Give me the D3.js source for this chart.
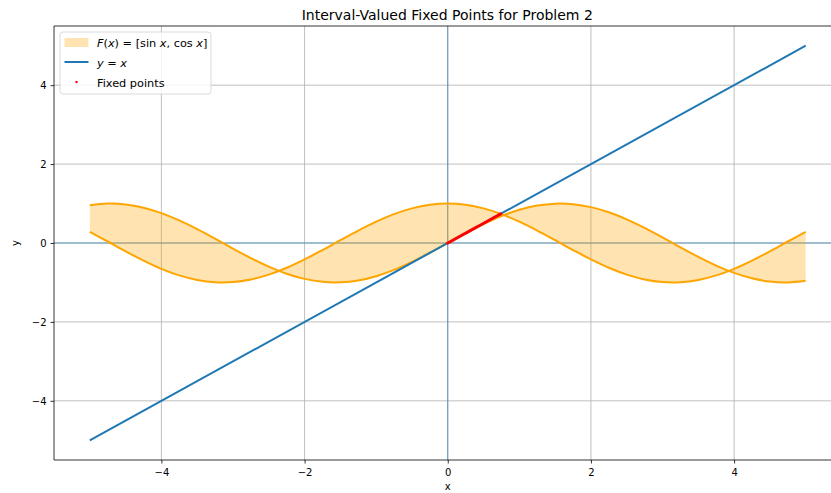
<!DOCTYPE html>
<html>
<head>
<meta charset="utf-8">
<script src="https://cdn.jsdelivr.net/npm/d3@7"></script>
<style>
  body { margin: 0; background: #fff; }
  text { font-family: "DejaVu Sans", sans-serif; }
</style>
</head>
<body>
<svg id="chart" width="831" height="493"></svg>
<script>
// sample points of the two bounding curves
const xs = [-5, -4.75, -4.5, -4.25, -4, -3.75, -3.5, -3.25, -3, -2.75, -2.5, -2.25, -2, -1.75, -1.5, -1.25, -1, -0.75, -0.5, -0.25,
    0, 0.25, 0.5, 0.75, 1, 1.25, 1.5, 1.75, 2, 2.25, 2.5, 2.75, 3, 3.25, 3.5, 3.75, 4, 4.25, 4.5, 4.75, 5];
const sinVals = [0.959, 0.999, 0.978, 0.895, 0.757, 0.572, 0.351, 0.108, -0.141, -0.382, -0.598, -0.778, -0.909, -0.984, -0.997, -0.949, -0.841, -0.682, -0.479, -0.247,
    0, 0.247, 0.479, 0.682, 0.841, 0.949, 0.997, 0.984, 0.909, 0.778, 0.598, 0.382, 0.141, -0.108, -0.351, -0.572, -0.757, -0.895, -0.978, -0.999, -0.959];
const cosVals = [0.284, 0.038, -0.211, -0.446, -0.654, -0.821, -0.936, -0.994, -0.990, -0.924, -0.801, -0.628, -0.416, -0.178, 0.071, 0.315, 0.540, 0.732, 0.878, 0.969,
    1, 0.969, 0.878, 0.732, 0.540, 0.315, 0.071, -0.178, -0.416, -0.628, -0.801, -0.924, -0.990, -0.994, -0.936, -0.821, -0.654, -0.446, -0.211, 0.038, 0.284];
const lineX = [-5, 5];
const fixedX = [0, 0.025, 0.05, 0.075, 0.1, 0.125, 0.15, 0.175, 0.2, 0.225, 0.25, 0.275, 0.3, 0.325, 0.35, 0.375, 0.4,
    0.425, 0.45, 0.475, 0.5, 0.525, 0.55, 0.575, 0.6, 0.625, 0.65, 0.675, 0.7, 0.725, 0.739];
const ticks = [-4, -2, 0, 2, 4];

const svg = d3.select("#chart");
const margin = { top: 26, left: 54 };
const innerWidth = 787.5;
const innerHeight = 434;

const x = d3.scaleLinear().domain([-5.5, 5.5]).range([0, innerWidth]);
const y = d3.scaleLinear().domain([-5.5, 5.5]).range([innerHeight, 0]);

const g = svg.append("g").attr("transform", `translate(${margin.left},${margin.top})`);

// grid
g.append("g").selectAll("line").data(ticks).enter().append("line")
    .attr("x1", d => x(d)).attr("x2", d => x(d))
    .attr("y1", 0).attr("y2", innerHeight)
    .attr("stroke", "#b0b0b0").attr("stroke-width", 0.8);
g.append("g").selectAll("line").data(ticks).enter().append("line")
    .attr("y1", d => y(d)).attr("y2", d => y(d))
    .attr("x1", 0).attr("x2", innerWidth)
    .attr("stroke", "#b0b0b0").attr("stroke-width", 0.8);

// zero lines
g.append("line").attr("x1", 0).attr("x2", innerWidth).attr("y1", y(0)).attr("y2", y(0))
    .attr("stroke", "#1f77b4").attr("stroke-opacity", 0.75).attr("stroke-width", 0.9);
g.append("line").attr("y1", 0).attr("y2", innerHeight).attr("x1", x(0)).attr("x2", x(0))
    .attr("stroke", "#1f77b4").attr("stroke-opacity", 0.75).attr("stroke-width", 0.9);

const pts = xs.map((v, i) => ({ x: v, s: sinVals[i], c: cosVals[i] }));

// band between sin and cos
g.append("path").datum(pts)
    .attr("d", d3.area().x(d => x(d.x)).y0(d => y(d.s)).y1(d => y(d.c)).curve(d3.curveCatmullRom))
    .attr("fill", "#ffa500").attr("fill-opacity", 0.3);

const lineSin = d3.line().x(d => x(d.x)).y(d => y(d.s)).curve(d3.curveCatmullRom);
const lineCos = d3.line().x(d => x(d.x)).y(d => y(d.c)).curve(d3.curveCatmullRom);
g.append("path").datum(pts).attr("d", lineSin).attr("fill", "none").attr("stroke", "#ffa500").attr("stroke-width", 2);
g.append("path").datum(pts).attr("d", lineCos).attr("fill", "none").attr("stroke", "#ffa500").attr("stroke-width", 2);

// y = x
g.append("path").datum(lineX)
    .attr("d", d3.line().x(d => x(d)).y(d => y(d)))
    .attr("fill", "none").attr("stroke", "#1f77b4").attr("stroke-width", 2);

// fixed points
g.append("g").selectAll("circle").data(fixedX).enter().append("circle")
    .attr("cx", d => x(d)).attr("cy", d => y(d)).attr("r", 1.6)
    .attr("fill", "red");

// axes
const fmt = d => String(d).replace("-", "\u2212");
const xAxisG = g.append("g").attr("transform", `translate(0,${innerHeight})`)
    .call(d3.axisBottom(x).tickValues(ticks).tickSize(3.5).tickPadding(5).tickFormat(fmt));
const yAxisG = g.append("g")
    .call(d3.axisLeft(y).tickValues(ticks).tickSize(3.5).tickPadding(4).tickFormat(fmt));
[xAxisG, yAxisG].forEach(a => {
    a.select(".domain").remove();
    a.selectAll("line").attr("stroke", "#000").attr("stroke-width", 0.8);
    a.selectAll("text").attr("font-size", 10).attr("fill", "#000").style("font-family", "DejaVu Sans");
});

// spines
g.append("line").attr("x1", 0).attr("x2", 0).attr("y1", 0).attr("y2", innerHeight).attr("stroke", "#000").attr("stroke-width", 0.8);
g.append("line").attr("x1", 0).attr("x2", innerWidth).attr("y1", innerHeight).attr("y2", innerHeight).attr("stroke", "#000").attr("stroke-width", 0.8);
g.append("line").attr("x1", 0).attr("x2", innerWidth).attr("y1", 0).attr("y2", 0).attr("stroke", "#000").attr("stroke-width", 0.8);

// labels
svg.append("text").attr("x", margin.left + innerWidth / 2 - 0.5).attr("y", 20)
    .attr("text-anchor", "middle").attr("font-size", 14).text("Interval-Valued Fixed Points for Problem 2");
svg.append("text").attr("x", margin.left + innerWidth / 2).attr("y", 490)
    .attr("text-anchor", "middle").attr("font-size", 10).text("x");
svg.append("text").attr("transform", `translate(19,${margin.top + innerHeight / 2}) rotate(-90)`)
    .attr("text-anchor", "middle").attr("font-size", 10).text("y");

// legend
const lg = g.append("g").attr("transform", "translate(6,6)");
lg.append("rect").attr("width", 151).attr("height", 62).attr("rx", 3)
    .attr("fill", "#fff").attr("fill-opacity", 0.8).attr("stroke", "#d0d0d0").attr("stroke-width", 0.8);
lg.append("rect").attr("x", 4.5).attr("y", 6).attr("width", 24).attr("height", 9)
    .attr("fill", "#ffa500").attr("fill-opacity", 0.3);
lg.append("line").attr("x1", 4.5).attr("x2", 28.5).attr("y1", 30).attr("y2", 30)
    .attr("stroke", "#1f77b4").attr("stroke-width", 2);
lg.append("circle").attr("cx", 16.5).attr("cy", 50).attr("r", 1.2).attr("fill", "red");

const t1 = lg.append("text").attr("x", 37).attr("y", 15).attr("font-size", 11.3);
t1.append("tspan").attr("font-style", "italic").text("F");
t1.append("tspan").text("(");
t1.append("tspan").attr("font-style", "italic").text("x");
t1.append("tspan").text(") = [sin ");
t1.append("tspan").attr("font-style", "italic").text("x");
t1.append("tspan").text(", cos ");
t1.append("tspan").attr("font-style", "italic").text("x");
t1.append("tspan").text("]");
const t2 = lg.append("text").attr("x", 37).attr("y", 34.5).attr("font-size", 11.3);
t2.append("tspan").attr("font-style", "italic").text("y");
t2.append("tspan").text(" = ");
t2.append("tspan").attr("font-style", "italic").text("x");
lg.append("text").attr("x", 37).attr("y", 54.5).attr("font-size", 11.3).text("Fixed points");
</script>
</body>
</html>
